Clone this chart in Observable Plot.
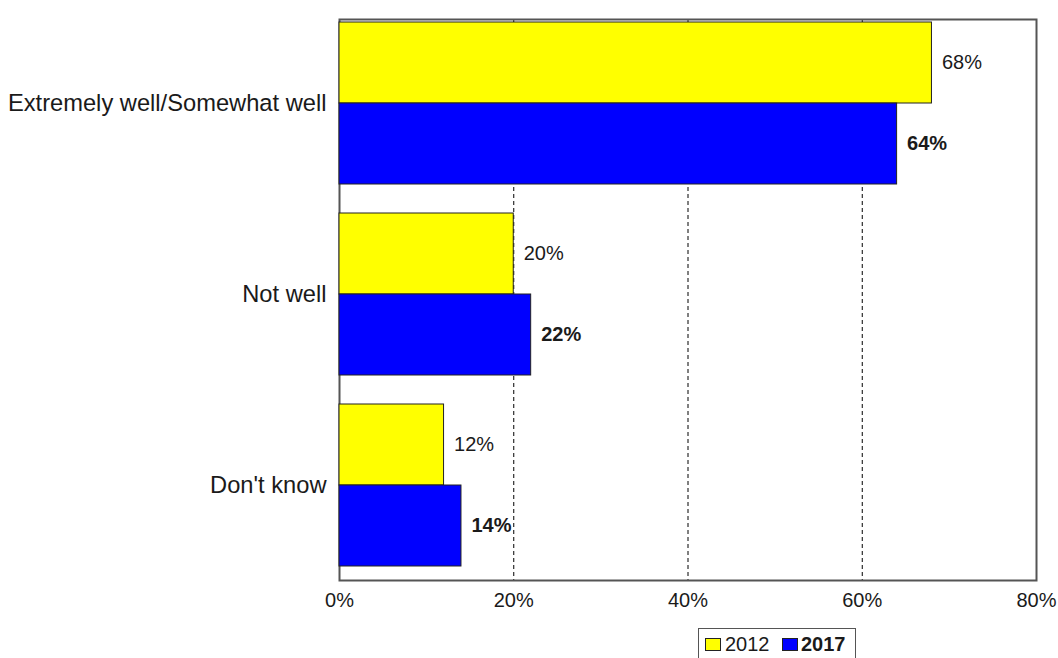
<!DOCTYPE html>
<html>
<head>
<meta charset="utf-8">
<script src="https://cdn.jsdelivr.net/npm/d3@7"></script>
<script src="https://cdn.jsdelivr.net/npm/@observablehq/plot@0.6"></script>
<style>
  html, body { margin: 0; padding: 0; background: #fff; }
  #wrap { position: relative; width: 1058px; height: 658px; overflow: hidden; font-family: "Liberation Sans", Arial, sans-serif; }
  #wrap svg { position: absolute; left: 0; top: 0; background: transparent !important; }
  #wrap svg text { fill: #1a1a1a; }
  g[aria-label^="x-axis"] text { font-size: 20px; }
  g[aria-label^="fy-axis"] text { font-size: 23.7px; }
  #legend { position: absolute; left: 698px; top: 628px; width: 158px; height: 40px; border: 1px solid #555; box-sizing: border-box; font-size: 20px; color: #1a1a1a; }
  .sw { position: absolute; top: 9px; width: 14px; height: 11px; border: 1px solid #222; }
  .lt { position: absolute; top: 4px; line-height: 22px; }
</style>
</head>
<body>
<div id="wrap"></div>
<script>
const categories = ["Extremely well/Somewhat well", "Not well", "Don't know"];
const years = ["2012", "2017"];
const values2012 = [68, 20, 12];
const values2017 = [64, 22, 14];
const xTicks = [0, 20, 40, 60, 80];
const gridTicks = [20, 40, 60];
const colors = ["#ffff00", "#0000ff"];

const rows = [];
categories.forEach((c, i) => {
  rows.push({category: c, year: years[0], value: values2012[i]});
  rows.push({category: c, year: years[1], value: values2017[i]});
});

const W = 1058, H = 658;
const font = '"Liberation Sans", Arial, sans-serif';

const base = Plot.plot({
  width: W, height: H,
  marginLeft: 339, marginRight: 22, marginTop: 19, marginBottom: 78,
  style: {fontFamily: font, background: "transparent"},
  x: {domain: [0, 80], ticks: xTicks, tickFormat: d => d + "%", tickSize: 0, tickPadding: 12, label: null},
  marks: [
    Plot.ruleX(gridTicks, {stroke: "#000", strokeWidth: 1, strokeDasharray: "4,3"}),
    Plot.frame({stroke: "#555", strokeWidth: 2})
  ]
});

const bars = Plot.plot({
  width: W, height: H,
  marginLeft: 339, marginRight: 22, marginTop: 20, marginBottom: 91,
  style: {fontFamily: font, background: "transparent"},
  facet: {data: rows, y: "category"},
  fy: {domain: categories, paddingInner: 0.146, paddingOuter: 0, label: null, tickSize: 0, tickPadding: 13, axis: "left"},
  x: {domain: [0, 80], axis: null},
  y: {domain: years, padding: 0, axis: null},
  color: {domain: years, range: colors},
  marks: [
    Plot.barX(rows, {x: "value", y: "year", fill: "year", stroke: "#222", strokeWidth: 1}),
    Plot.text(rows, {filter: d => d.year === years[0], x: "value", y: "year", text: d => d.value + "%", dx: 10, textAnchor: "start", fontSize: 20}),
    Plot.text(rows, {filter: d => d.year === years[1], x: "value", y: "year", text: d => d.value + "%", dx: 10, textAnchor: "start", fontSize: 20, fontWeight: "bold"})
  ]
});

const wrap = document.getElementById("wrap");
wrap.appendChild(base);
wrap.appendChild(bars);

const legend = document.createElement("div");
legend.id = "legend";
legend.innerHTML =
  `<div class="sw" style="left:6px;background:${colors[0]}"></div><div class="lt" style="left:26px">${years[0]}</div>` +
  `<div class="sw" style="left:83px;background:${colors[1]}"></div><div class="lt" style="left:102px;font-weight:bold">${years[1]}</div>`;
wrap.appendChild(legend);
</script>
</body>
</html>
